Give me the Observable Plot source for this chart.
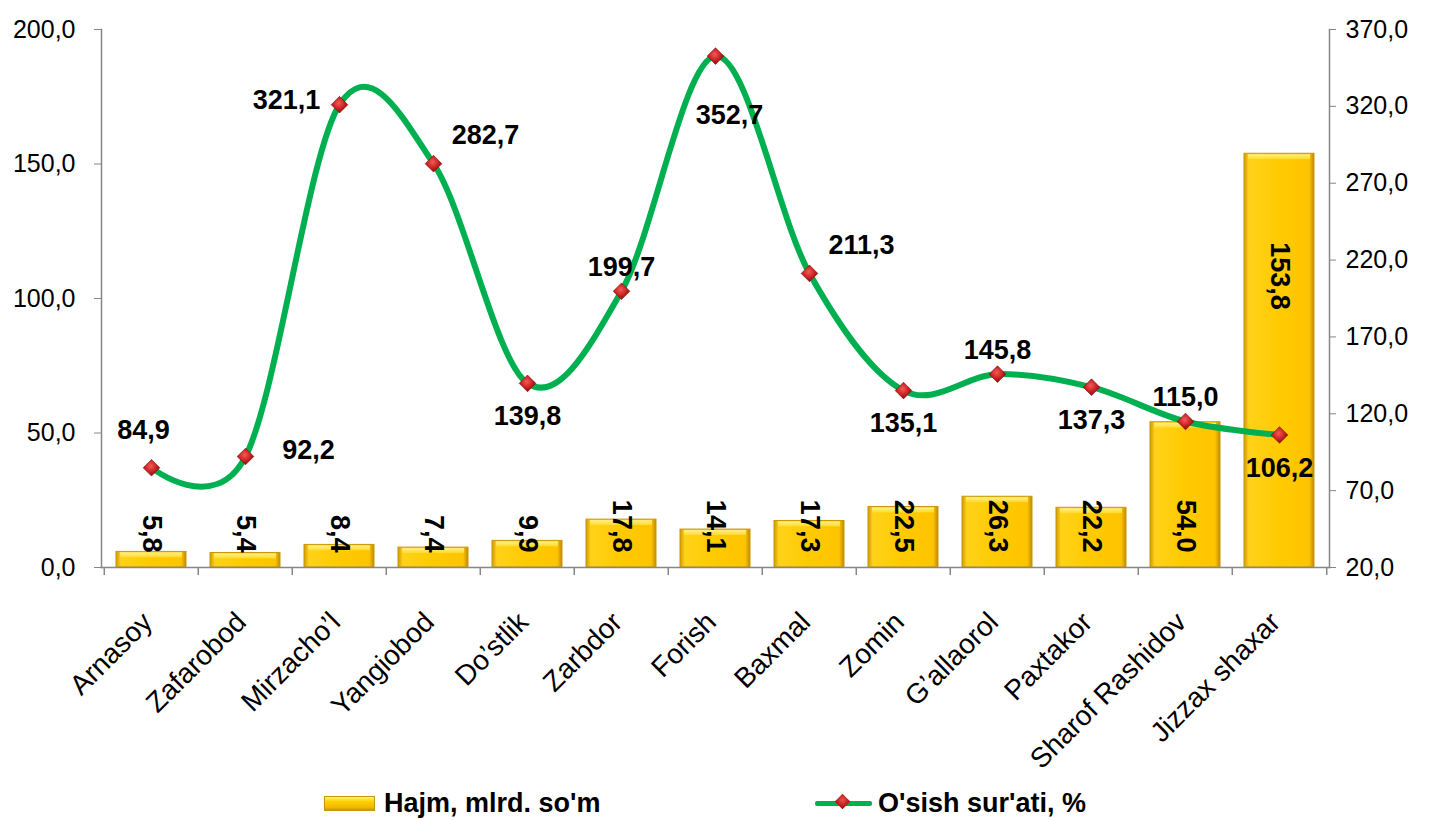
<!DOCTYPE html>
<html><head><meta charset="utf-8">
<script src="https://cdn.jsdelivr.net/npm/d3@7"></script>
<script src="https://cdn.jsdelivr.net/npm/@observablehq/plot@0.6"></script>
<style>
body{margin:0;background:#fff;font-family:Arial,"Liberation Sans",sans-serif;}
#wrap{position:relative;width:1435px;height:820px;overflow:hidden;}
.leg{position:absolute;top:787px;height:32px;display:flex;align-items:center;font-weight:bold;font-size:27px;color:#000;white-space:nowrap;}
.sw-bar{width:51px;height:15px;margin-right:9px;background:linear-gradient(180deg,#FFF27A 0%,#FFD000 35%,#F2B800 80%,#C99A00 100%);border:1px solid #C8960A;box-sizing:border-box;}
.sw-line{position:relative;width:57px;height:16px;margin-right:6px;}
.sw-line .ln{position:absolute;left:0;right:0;top:6px;height:5px;background:#00B050;border-radius:2px;}
.sw-line .dm{position:absolute;left:22px;top:1px;width:11px;height:11px;transform:rotate(45deg);background:radial-gradient(circle at 40% 40%,#F05050,#B01818 70%,#800808);}
</style></head><body>
<svg width="0" height="0" style="position:absolute"><defs>
<linearGradient id="gold" x1="0" x2="1" y1="0" y2="0">
<stop offset="0" stop-color="#D49A00"/><stop offset="0.07" stop-color="#FFD21A"/><stop offset="0.5" stop-color="#FFCA00"/><stop offset="0.93" stop-color="#FFC400"/><stop offset="1" stop-color="#C08C00"/>
</linearGradient>
<linearGradient id="goldtop" x1="0" x2="0" y1="0" y2="1">
<stop offset="0" stop-color="#FFF7A0"/><stop offset="1" stop-color="#FFDD30"/>
</linearGradient>
<radialGradient id="ruby" cx="0.45" cy="0.4" r="0.6">
<stop offset="0" stop-color="#F25A5A"/><stop offset="0.6" stop-color="#C82020"/><stop offset="1" stop-color="#8A0A0A"/>
</radialGradient>
</defs></svg>
<div id="wrap"><div id="chart"></div>
<div class="leg" style="left:324px"><div class="sw-bar"></div>Hajm, mlrd. so'm</div>
<div class="leg" style="left:815px"><div class="sw-line"><div class="ln"></div><div class="dm"></div></div>O'sish sur'ati, %</div>
</div>
<script>
const categories = ["Arnasoy","Zafarobod","Mirzacho’l","Yangiobod","Do’stlik","Zarbdor","Forish","Baxmal","Zomin","G’allaorol","Paxtakor","Sharof Rashidov","Jizzax shaxar"];
const volume = [5.8,5.4,8.4,7.4,9.9,17.8,14.1,17.3,22.5,26.3,22.2,54.0,153.8];
const growth = [84.9,92.2,321.1,282.7,139.8,199.7,352.7,211.3,135.1,145.8,137.3,115.0,106.2];
const leftTicks = [0,50,100,150,200];
const rightTicks = [20,70,120,170,220,270,320,370];
const growthLabelPlacement = ["aboveLeft","right","left","aboveRight","below","above","belowFar","aboveRight","below","above","below","above","below"];

const W = 1435, H = 785, ML = 101, MR = 106, MT = 29, MB = H - 567;
const rMin = 20, rMax = 370, lMax = 200;
const toLeft = r => (r - rMin) * lMax / (rMax - rMin);
const toRight = l => rMin + l * (rMax - rMin) / lMax;
const fmt = v => (Math.round(v * 10) / 10).toFixed(1).replace(".", ",");
const step = (W - ML - MR) / categories.length;

const data = categories.map((c, i) => ({cat: c, vol: volume[i], gr: growth[i], pl: growthLabelPlacement[i]}));
const offsets = {
  aboveLeft: [-8, -37], right: [63, -6], left: [-53, -4], aboveRight: [52, -28],
  below: [0, 33], above: [0, -24], belowFar: [14, 59]
};
const labelEnd = v => v > 100 ? v - 58 : 5.6;
const lineLabelMarks = Object.entries(offsets).map(([k, [dx, dy]]) =>
  Plot.text(data.filter(d => d.pl === k), {x: "cat", y: d => toLeft(d.gr), text: d => fmt(d.gr), dx, dy,
    fontSize: 27, fontWeight: "bold", fill: "#000"}));

const plot = Plot.plot({
  width: W, height: H, marginLeft: ML, marginRight: MR, marginTop: MT, marginBottom: MB,
  style: {fontFamily: "Arial, 'Liberation Sans', sans-serif", fontSize: "25px", background: "#fff", color: "#000"},
  x: {domain: categories, paddingInner: 0.26, paddingOuter: 0.13, label: null},
  y: {domain: [0, lMax], label: null},
  marks: [
    Plot.barY(data, {x: "cat", y: "vol", fill: "url(#gold)", stroke: "#C8960A", strokeWidth: 1}),
    Plot.rectY(data, {x: "cat", y1: d => d.vol, y2: d => Math.max(d.vol - 2.2, 0), fill: "url(#goldtop)", insetLeft: 4, insetRight: 4, insetTop: 1, fillOpacity: 0.85}),
    Plot.text(data, {x: "cat", y: d => labelEnd(d.vol), text: d => fmt(d.vol), rotate: 90, textAnchor: "end",
      fontSize: 27, fontWeight: "bold", fill: "#000"}),
    Plot.frame({anchor: "left", stroke: "#868686", strokeWidth: 1.5}),
    Plot.frame({anchor: "right", stroke: "#868686", strokeWidth: 1.5}),
    Plot.frame({anchor: "bottom", stroke: "#868686", strokeWidth: 1.5}),
    Plot.ruleX(categories, {x: d => d, y1: 0, y2: 0, dx: -step / 2, insetBottom: -8, stroke: "#868686", strokeWidth: 1.5}),
    Plot.ruleX(categories.slice(-1), {x: d => d, y1: 0, y2: 0, dx: step / 2, insetBottom: -8, stroke: "#868686", strokeWidth: 1.5}),
    Plot.axisY({ticks: leftTicks, tickFormat: fmt, anchor: "left", tickSize: 7, tickPadding: 19, stroke: "#868686", fill: "#000", label: null}),
    Plot.axisY({ticks: rightTicks.map(toLeft), tickFormat: d => fmt(toRight(d)), anchor: "right", tickSize: 6, tickPadding: 10, stroke: "#868686", fill: "#000", label: null}),
    Plot.axisX({tickRotate: -45, tickSize: 0, tickPadding: 50, dx: -4, fontSize: 28, fill: "#000", label: null}),
    Plot.line(data, {x: "cat", y: d => toLeft(d.gr), curve: "cardinal", stroke: "#00B050", strokeWidth: 6}),
    Plot.dot(data, {x: "cat", y: d => toLeft(d.gr), symbol: "diamond2", r: 7.5, fill: "url(#ruby)", stroke: "#7A0A0A", strokeWidth: 0.6}),
    ...lineLabelMarks
  ]
});
document.getElementById("chart").appendChild(plot);
</script>
</body></html>
